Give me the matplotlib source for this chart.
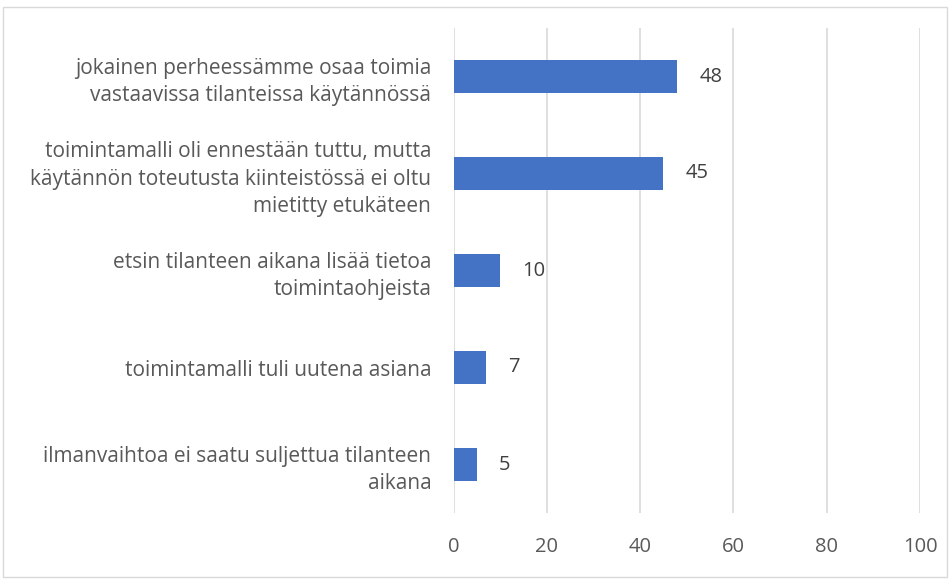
import matplotlib
matplotlib.use("Agg")
import matplotlib.pyplot as plt
from matplotlib.patches import Rectangle

categories = [
    "jokainen perheessämme osaa toimia\nvastaavissa tilanteissa käytännössä",
    "toimintamalli oli ennestään tuttu, mutta\nkäytännön toteutusta kiinteistössä ei oltu\nmietitty etukäteen",
    "etsin tilanteen aikana lisää tietoa\ntoimintaohjeista",
    "toimintamalli tuli uutena asiana",
    "ilmanvaihtoa ei saatu suljettua tilanteen\naikana",
]
values = [48, 45, 10, 7, 5]
xticks = [0, 20, 40, 60, 80, 100]

plt.rcParams['font.family'] = ['Open Sans', 'DejaVu Sans']

fig = plt.figure(figsize=(9.52, 5.8), dpi=100)
ax = fig.add_axes([453.5 / 952, 1 - 513 / 580, (920 - 453.5) / 952, (513 - 28) / 580])

ypos = list(range(len(values)))[::-1]
ax.barh(ypos, values, height=0.35, color="#4472C4", zorder=3)
for y, v in zip(ypos, values):
    ax.annotate(str(v), (v, y), xytext=(16, 0), textcoords="offset points",
                va="center", ha="left", fontsize=14.5, color="#404040")

ax.set_xlim(0, 100)
ax.set_ylim(-0.5, len(values) - 0.5)
ax.set_xticks(xticks)
ax.set_xticklabels([str(t) for t in xticks], fontsize=14.5, color="#595959")
ax.set_yticks(ypos)
ax.set_yticklabels(categories, fontsize=15, color="#595959", ha="right", linespacing=1.4)
ax.tick_params(axis="both", length=0)
ax.tick_params(axis="x", pad=17)
ax.tick_params(axis="y", pad=16)
ax.grid(axis="x", color="#D9D9D9", linewidth=1.2, zorder=0)
for s in ax.spines.values():
    s.set_visible(False)

fig.patches.append(Rectangle((3 / 952, 3 / 580), 944 / 952, 570 / 580, transform=fig.transFigure,
                             fill=False, edgecolor="#D9D9D9", linewidth=1))

fig.savefig("out.png", dpi=100)
